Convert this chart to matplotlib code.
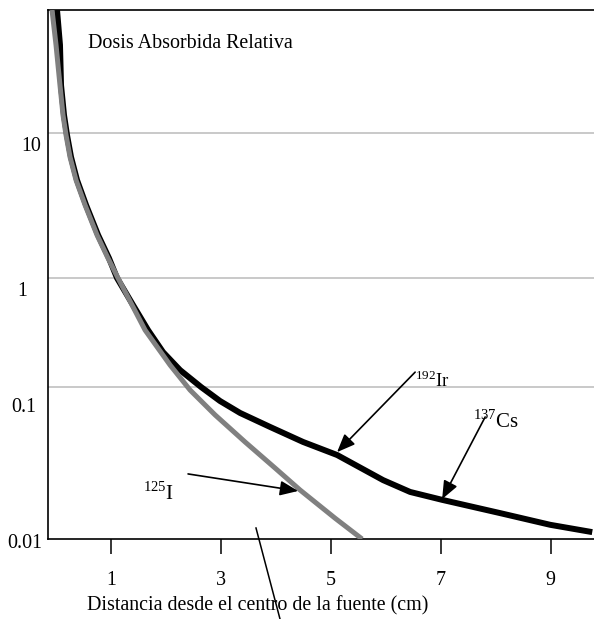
import matplotlib; matplotlib.use('Agg')
import numpy as np
import matplotlib.pyplot as plt
from matplotlib.lines import Line2D
from matplotlib.ticker import NullLocator
from matplotlib.transforms import ScaledTranslation

plt.rcParams['font.family'] = ['Liberation Serif', 'DejaVu Serif']
plt.rcParams['mathtext.fontset'] = 'custom'
plt.rcParams['mathtext.rm'] = 'Liberation Serif'

# I-125 curve (gray)
i125_x = [-0.07, 0.003, 0.075, 0.13, 0.185, 0.258, 0.367, 0.531, 0.749, 0.949, 1.131,
          1.623, 2.078, 2.442, 2.897, 3.442, 3.988, 4.443, 5.08, 5.571]
i125_y = [81, 44.7, 22.6, 13.6, 9.69, 6.83, 4.74, 3.19, 1.98, 1.37, 1.0,
          0.333, 0.159, 0.0955, 0.0655, 0.0435, 0.0293, 0.021, 0.0137, 0.01]

# Ir-192 / Cs-137 curve (black)
ir_x = [0.021, 0.075, 0.094, 0.148, 0.203, 0.276, 0.385, 0.549, 0.768, 0.967, 1.113,
        1.404, 1.677, 1.95, 2.26, 2.642, 2.987, 3.352, 3.898, 4.498, 5.117,
        5.954, 6.445, 7.027, 8.083, 8.993, 9.758]
ir_y = [81, 44.7, 22.6, 13.6, 9.69, 6.83, 4.74, 3.19, 1.98, 1.37, 1.0,
        0.565, 0.333, 0.209, 0.143, 0.1, 0.0809, 0.0675, 0.0546, 0.0435, 0.0357,
        0.0244, 0.0204, 0.0181, 0.0148, 0.0124, 0.0111]

x_ticks = [1, 3, 5, 7, 9]
y_vals = [10, 1, 0.1, 0.01]
y_labels = ['10', '1', '0.1', '0.01']
grid_vals = [10, 1, 0.1]

# the original's decades are not evenly spaced -> piecewise log scale
dec = [-4, -2, -1, 0, 1, 3]
hgt = [-304, 0, 152, 261, 406, 677]

def fwd(y):
    return np.interp(np.log10(np.clip(y, 1e-9, None)), dec, hgt)

def inv(p):
    return 10 ** np.interp(p, hgt, dec)

fig = plt.figure(figsize=(5.94, 6.19), dpi=100)
ax = fig.add_axes([48/594, 80/619, 546/594, 529/619])
ax.set_yscale('function', functions=(fwd, inv))
ax.set_xlim(-0.143, 9.79)
ax.set_ylim(0.01, 81)
ax.set_yticks([])
ax.yaxis.set_minor_locator(NullLocator())

for v in grid_vals:
    ax.axhline(v, color='#c0c0c0', lw=1.2, zorder=1)

ax.plot(ir_x, ir_y, color='black', lw=4.3, solid_capstyle='butt',
        solid_joinstyle='round', zorder=3)
ax.plot(i125_x, i125_y, color='#808080', lw=3.6, solid_capstyle='butt',
        solid_joinstyle='round', zorder=4)

ax.set_xticks(x_ticks)
ax.tick_params(axis='x', direction='out', length=10.8, width=1.1, pad=12, labelsize=14.4)
ax.spines['right'].set_visible(False)
for s in ['left', 'bottom', 'top']:
    ax.spines[s].set_linewidth(1.2)

# y labels sit a bit below their gridlines in the original
label_dy = [9.4, 9.4, 14.4, 3.6]
label_x = [-0.031, -0.048, -0.045, -0.043]
for v, lab, dy, lx in zip(y_vals, y_labels, label_dy, label_x):
    tr = ax.get_yaxis_transform() + ScaledTranslation(0, -dy/72, fig.dpi_scale_trans)
    ax.text(lx, v, lab, transform=tr, ha='center', va='center', fontsize=14.4, clip_on=False)

ax.text(0.073, 0.928, 'Dosis Absorbida Relativa', transform=ax.transAxes,
        fontsize=14.4, va='baseline')
fig.text(257.5/594, 1 - 606/619, 'Distancia desde el centro de la fuente (cm)',
         ha='center', va='center', fontsize=14.4)

# isotope labels and arrows
ax.text(6.536, 0.1, r'$^{\mathrm{192}}$Ir', fontsize=13.5, va='baseline')
ax.text(7.58, 0.0537, r'$^{\mathrm{137}}$Cs', fontsize=15, va='baseline')
ax.text(1.586, 0.0181, r'$^{\mathrm{125}}$I', fontsize=15, va='baseline')

ap = dict(arrowstyle='-|>,head_length=1.1,head_width=0.45', mutation_scale=10,
          lw=1.2, color='black', shrinkA=0, shrinkB=0)
ax.annotate('', xy=(5.116, 0.0373), xytext=(6.536, 0.137), arrowprops=ap, zorder=6)
ax.annotate('', xy=(7.027, 0.0183), xytext=(7.81, 0.0635), arrowprops=ap, zorder=6)
ax.annotate('', xy=(4.407, 0.0207), xytext=(2.405, 0.0268), arrowprops=ap, zorder=6)

# stray leader line crossing the axis label
fig.add_artist(Line2D([256/594, 280/594], [1 - 528/619, 0], transform=fig.transFigure,
                      color='black', lw=1.1))

fig.savefig('out.png', dpi=100, facecolor='white')
